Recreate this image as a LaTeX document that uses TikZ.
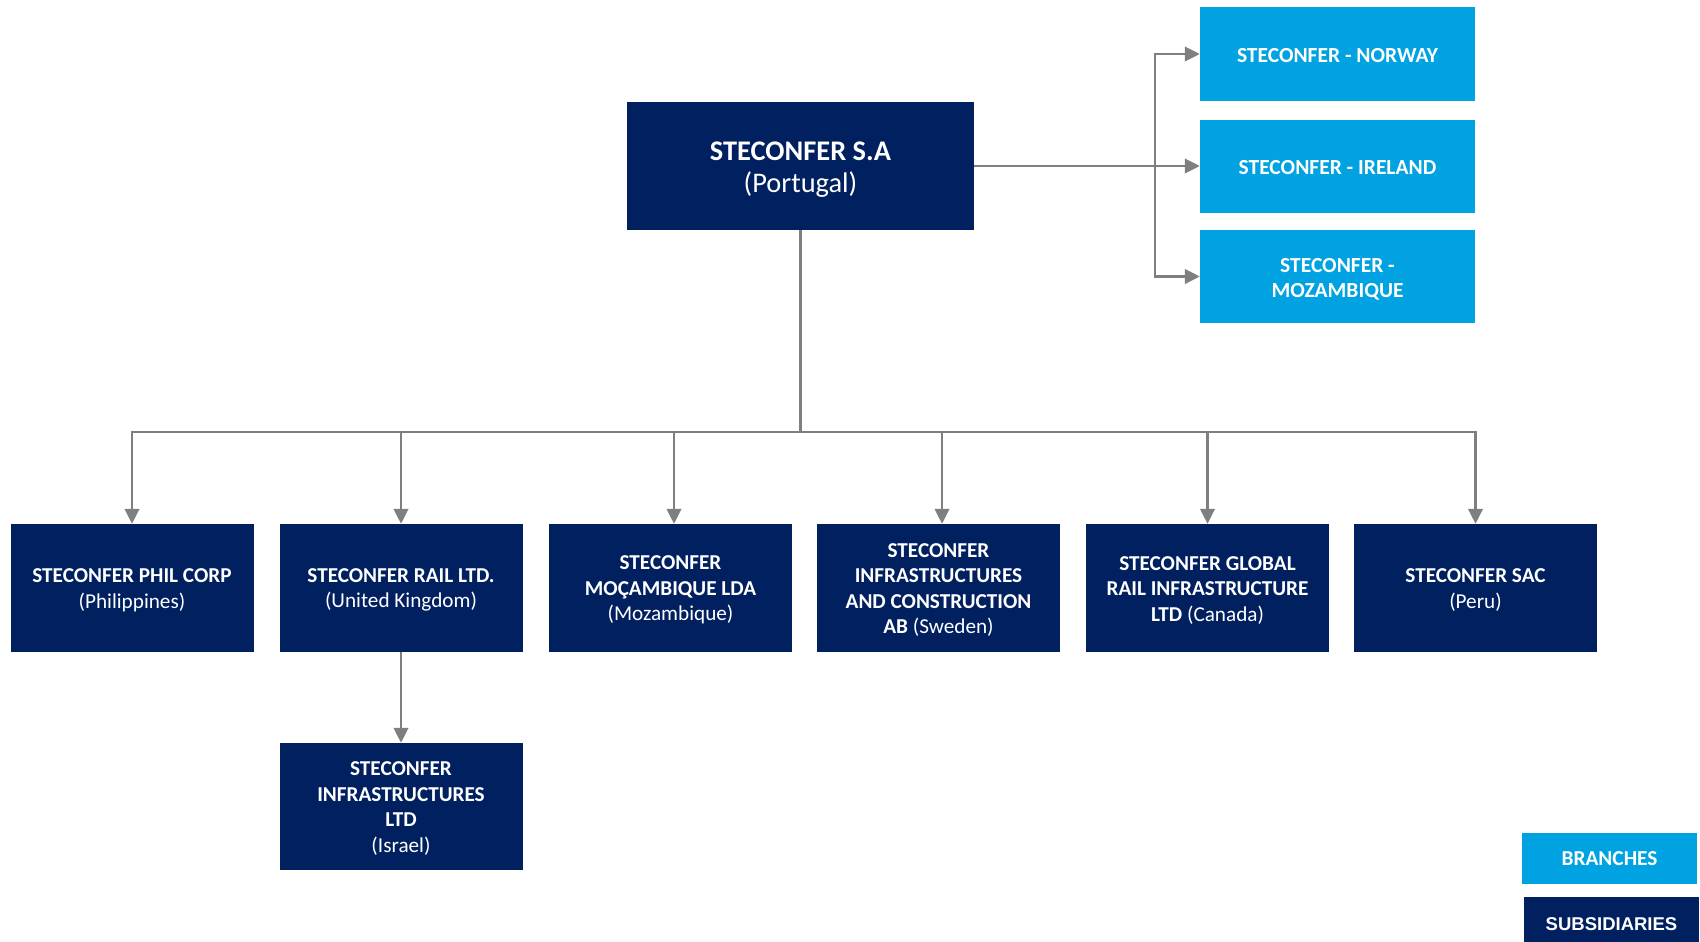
\documentclass[tikz,border=0pt]{standalone}
\usepackage{fontspec}
\setmainfont{Carlito}
\newfontfamily\arialfont{Liberation Sans}
\usetikzlibrary{arrows.meta}
\definecolor{navy}{HTML}{002060}
\definecolor{lblue}{HTML}{00A2E1}
\definecolor{conn}{HTML}{7F7F7F}
\newcommand\mytopstrut[1]{\rule{0pt}{#1}}
\tikzset{
  subbox/.style={rectangle, fill=navy, text=white, inner sep=0pt, align=center,
    minimum width=243pt, minimum height=128pt,
    font=\fontsize{21.2}{25.5}\selectfont},
  branchbox/.style={rectangle, fill=lblue, text=white, inner sep=0pt, align=center,
    minimum width=275pt, minimum height=93pt,
    font=\fontsize{21.5}{25}\selectfont\bfseries,
    execute at begin node={\rule{0pt}{17pt}}},
  arr/.style={draw=conn, line width=2.5pt, -{Triangle[length=15pt,width=14.5pt]}},
  ln/.style={draw=conn, line width=2.5pt}
}
\begin{document}
\begin{tikzpicture}[x=1pt,y=-1pt]
\useasboundingbox (0,0) rectangle (1700,942);
% main
\node[rectangle, fill=navy, text=white, inner sep=0pt, align=center,
  minimum width=347pt, minimum height=128pt,
  font=\fontsize{28.4}{31.5}\selectfont] (main) at (800.5,166)
  {\mytopstrut{25.5pt}\textbf{STECONFER S.A}\\(Portugal)};
% branches
\node[branchbox] (norway) at (1337.5,54) {STECONFER - NORWAY};
\node[branchbox] (ireland) at (1337.5,166) {STECONFER - IRELAND};
\node[branchbox] (mozb) at (1337.5,276.5) {\mytopstrut{20.5pt}STECONFER -\\MOZAMBIQUE};
% subsidiaries
\node[subbox] (phil) at (132,588) {\mytopstrut{18pt}\textbf{STECONFER PHIL CORP}\\(Philippines)};
\node[subbox] (rail) at (401,588) {\mytopstrut{18pt}\textbf{STECONFER RAIL LTD.}\\(United Kingdom)};
\node[subbox] (moz) at (670.5,588) {\mytopstrut{18pt}\textbf{STECONFER}\\\textbf{MOÇAMBIQUE LDA}\\(Mozambique)};
\node[subbox] (swe) at (938.5,588) {\mytopstrut{18pt}\textbf{STECONFER}\\\textbf{INFRASTRUCTURES}\\\textbf{AND CONSTRUCTION}\\\textbf{AB} (Sweden)};
\node[subbox] (can) at (1207.5,588) {\mytopstrut{18pt}\textbf{STECONFER GLOBAL}\\\textbf{RAIL INFRASTRUCTURE}\\\textbf{LTD} (Canada)};
\node[subbox] (peru) at (1475.5,588) {\mytopstrut{18pt}\textbf{STECONFER SAC}\\(Peru)};
\node[subbox, minimum height=127pt] (isr) at (401,806.5) {\mytopstrut{18pt}\textbf{STECONFER}\\\textbf{INFRASTRUCTURES}\\\textbf{LTD}\\(Israel)};
% legend
\node[rectangle, fill=lblue, text=white, inner sep=0pt, minimum width=175pt, minimum height=51pt,
  font=\fontsize{21.3}{24}\selectfont\bfseries] (legb) at (1609.5,858.5) {BRANCHES};
\node[rectangle, fill=navy, text=white, inner sep=0pt, minimum width=175pt, minimum height=46pt,
  font=\arialfont\fontsize{18.5}{22}\selectfont\bfseries,
  execute at begin node={\rule{0pt}{21.5pt}}] (legs) at (1611.5,919.5) {SUBSIDIARIES};
% connectors
\coordinate (bus) at (800.5,432);
\coordinate (bbus) at (1155,166);
\draw[ln] (main.south) -- (bus);
\draw[arr] (bus) -| (phil.north);
\draw[arr] (bus) -| (rail.north);
\draw[arr] (bus) -| ([xshift=3.5pt]moz.north);
\draw[arr] (bus) -| ([xshift=3.5pt]swe.north);
\draw[arr] (bus) -| (can.north);
\draw[arr] (bus) -| (peru.north);
\draw[arr] (main.east) -- (ireland.west);
\draw[arr] (bbus) |- (norway.west);
\draw[arr] (bbus) |- (mozb.west);
\draw[arr] (rail.south) -- (isr.north);
\end{tikzpicture}
\end{document}
